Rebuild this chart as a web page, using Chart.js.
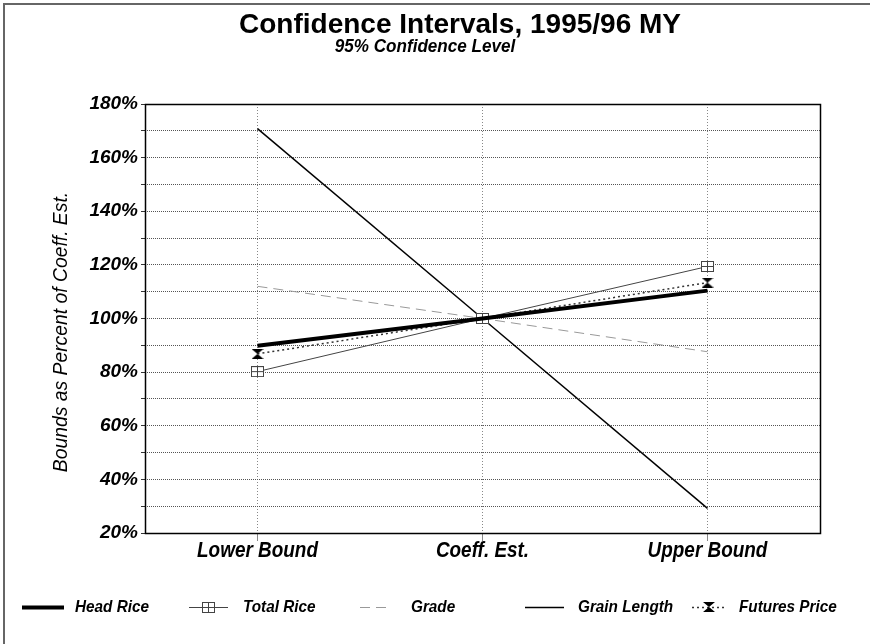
<!DOCTYPE html>
<html>
<head>
<meta charset="utf-8">
<script src="https://cdn.jsdelivr.net/npm/chart.js@4.4.1/dist/chart.umd.min.js"></script>
<style>
  html, body { margin: 0; padding: 0; background: #ffffff; }
  #wrap { width: 870px; height: 644px; position: relative; }
</style>
</head>
<body>
<div id="wrap"><canvas id="c" width="870" height="644"></canvas></div>
<script>
// ---- data ----
const categories = ['Lower Bound', 'Coeff. Est.', 'Upper Bound'];
const headRice = [89.8, 100, 110.4];
const totalRice = [80.2, 100, 119.4];
const grade = [112, 100, 87.6];
const grainLength = [170.8, 100, 29.2];
const futuresPrice = [86.8, 100, 113.4];
const seriesNames = ['Head Rice', 'Total Rice', 'Grade', 'Grain Length', 'Futures Price'];
const yTickMin = 20, yTickMax = 180, yTickStep = 10, yLabelStep = 20;

const titleText = 'Confidence Intervals, 1995/96 MY';
const subtitleText = '95% Confidence Level';
const yAxisTitle = 'Bounds as Percent of Coeff. Est.';

const FAM = "'Liberation Sans', Arial, sans-serif";

// condensed text helper
function condText(ctx, text, x, y, font, sx, align, rot) {
  ctx.save();
  ctx.translate(x, y);
  if (rot) ctx.rotate(rot);
  ctx.scale(sx, 1);
  ctx.font = font;
  ctx.textAlign = align;
  ctx.textBaseline = 'middle';
  ctx.fillStyle = '#000';
  ctx.fillText(text, 0, 0);
  ctx.restore();
}

// ---- marker images ----
function squareMarker() {
  const c = document.createElement('canvas');
  c.width = 13; c.height = 11;
  const g = c.getContext('2d');
  g.fillStyle = '#fff';
  g.fillRect(0, 0, 13, 11);
  g.strokeStyle = '#444';
  g.lineWidth = 1;
  g.strokeRect(0.5, 0.5, 12, 10);
  g.beginPath();
  g.moveTo(6.5, 0.5); g.lineTo(6.5, 10.5);
  g.moveTo(0.5, 5.5); g.lineTo(12.5, 5.5);
  g.stroke();
  return c;
}
function hourglassMarker() {
  const c = document.createElement('canvas');
  c.width = 12; c.height = 10;
  const g = c.getContext('2d');
  g.fillStyle = '#000';
  g.beginPath();
  g.moveTo(0, 0); g.lineTo(12, 0); g.lineTo(6, 5); g.lineTo(12, 10); g.lineTo(0, 10); g.lineTo(6, 5);
  g.closePath();
  g.fill();
  return c;
}
const sqImg = squareMarker();
const hgImg = hourglassMarker();

// ---- plugins ----
const framePlugin = {
  id: 'frame',
  beforeDatasetsDraw(chart) {
    const { ctx, chartArea: a } = chart;
    ctx.save();
    ctx.strokeStyle = '#000';
    ctx.lineWidth = 1.5;
    ctx.strokeRect(Math.round(a.left) + 0.5, Math.round(a.top) + 0.5,
                   Math.round(a.right - a.left), Math.round(a.bottom - a.top));
    ctx.restore();
  },
  afterDraw(chart) {
    const { ctx, chartArea: a } = chart;
    ctx.save();
    // outer page frame (left and top)
    ctx.strokeStyle = '#666';
    ctx.lineWidth = 2;
    ctx.beginPath();
    ctx.moveTo(4, 644); ctx.lineTo(4, 4); ctx.lineTo(870, 4);
    ctx.stroke();
    // titles
    ctx.fillStyle = '#000';
    ctx.textAlign = 'center';
    ctx.textBaseline = 'alphabetic';
    ctx.font = "bold 28px 'Liberation Sans', Arial, sans-serif";
    ctx.fillText(titleText, 460, 33);
    condText(ctx, subtitleText, 425, 47, 'italic bold 18px ' + FAM, 0.95, 'center');
    // y axis title
    condText(ctx, yAxisTitle, 61, 332, 'italic 21px ' + FAM, 0.92, 'center', -Math.PI / 2);
    // x category labels
    const xs = chart.scales.x;
    chart.data.labels.forEach((lab, i) => {
      condText(ctx, lab, xs.getPixelForTick(i), 551, 'italic bold 22px ' + FAM, 0.86, 'center');
    });
    // legend
    const lx = [[22, 64, 75], [189, 228, 243], [360, 392, 411], [525, 564, 578], [692, 725, 739]];
    const ly = 607;
    chart.data.datasets.forEach((ds, i) => {
      const [x0, x1, tx] = lx[i];
      ctx.save();
      ctx.strokeStyle = ds.borderColor;
      ctx.lineWidth = ds.borderWidth;
      ctx.setLineDash(ds.borderDash || []);
      ctx.beginPath();
      ctx.moveTo(x0, ly + 0.5); ctx.lineTo(x1, ly + 0.5);
      ctx.stroke();
      ctx.restore();
      if (ds.pointStyle && typeof ds.pointStyle === 'object') {
        const im = ds.pointStyle;
        ctx.drawImage(im, Math.round((x0 + x1) / 2 - im.width / 2), Math.round(ly - im.height / 2));
      }
      condText(ctx, ds.label, tx, ly, 'italic bold 17px ' + FAM, 0.9, 'left');
    });
    ctx.restore();
  }
};

const datasets = [
  { label: seriesNames[0], data: headRice, borderColor: '#000', borderWidth: 4, pointRadius: 0 },
  { label: seriesNames[1], data: totalRice, borderColor: '#444', borderWidth: 1, pointStyle: sqImg, pointRadius: 6 },
  { label: seriesNames[2], data: grade, borderColor: '#999', borderWidth: 1, borderDash: [10, 6], pointRadius: 0 },
  { label: seriesNames[3], data: grainLength, borderColor: '#000', borderWidth: 1.5, pointRadius: 0 },
  { label: seriesNames[4], data: futuresPrice, borderColor: '#333', borderWidth: 1.5, borderDash: [2, 3], pointStyle: hgImg, pointRadius: 6 }
];

new Chart(document.getElementById('c'), {
  type: 'line',
  data: { labels: categories, datasets: datasets },
  options: {
    responsive: false,
    animation: false,
    devicePixelRatio: 1,
    layout: { padding: { top: 104, right: 50, bottom: 71, left: 0 } },
    elements: { line: { tension: 0, fill: false } },
    plugins: { legend: { display: false }, title: { display: false }, tooltip: { enabled: false } },
    scales: {
      x: {
        offset: true,
        afterFit(s) { s.height = 40; },
        grid: { color: '#888', lineWidth: 1, tickLength: 8, offset: false, tickColor: '#888' },
        border: { display: false, dash: [1, 2] },
        ticks: { display: false }
      },
      y: {
        min: yTickMin, max: yTickMax,
        afterFit(s) { s.width = 145; },
        grid: { color: '#555', lineWidth: 1, tickLength: 4, tickColor: '#333' },
        border: { display: false, dash: [1, 1] },
        ticks: {
          stepSize: yTickStep, autoSkip: false, padding: 3, color: '#000',
          font: { family: FAM, size: 19, style: 'italic', weight: 'bold' },
          callback: (v) => (v % yLabelStep === 0 ? v + '%' : '')
        },
        title: { display: false }
      }
    }
  },
  plugins: [framePlugin]
});
</script>
</body>
</html>
